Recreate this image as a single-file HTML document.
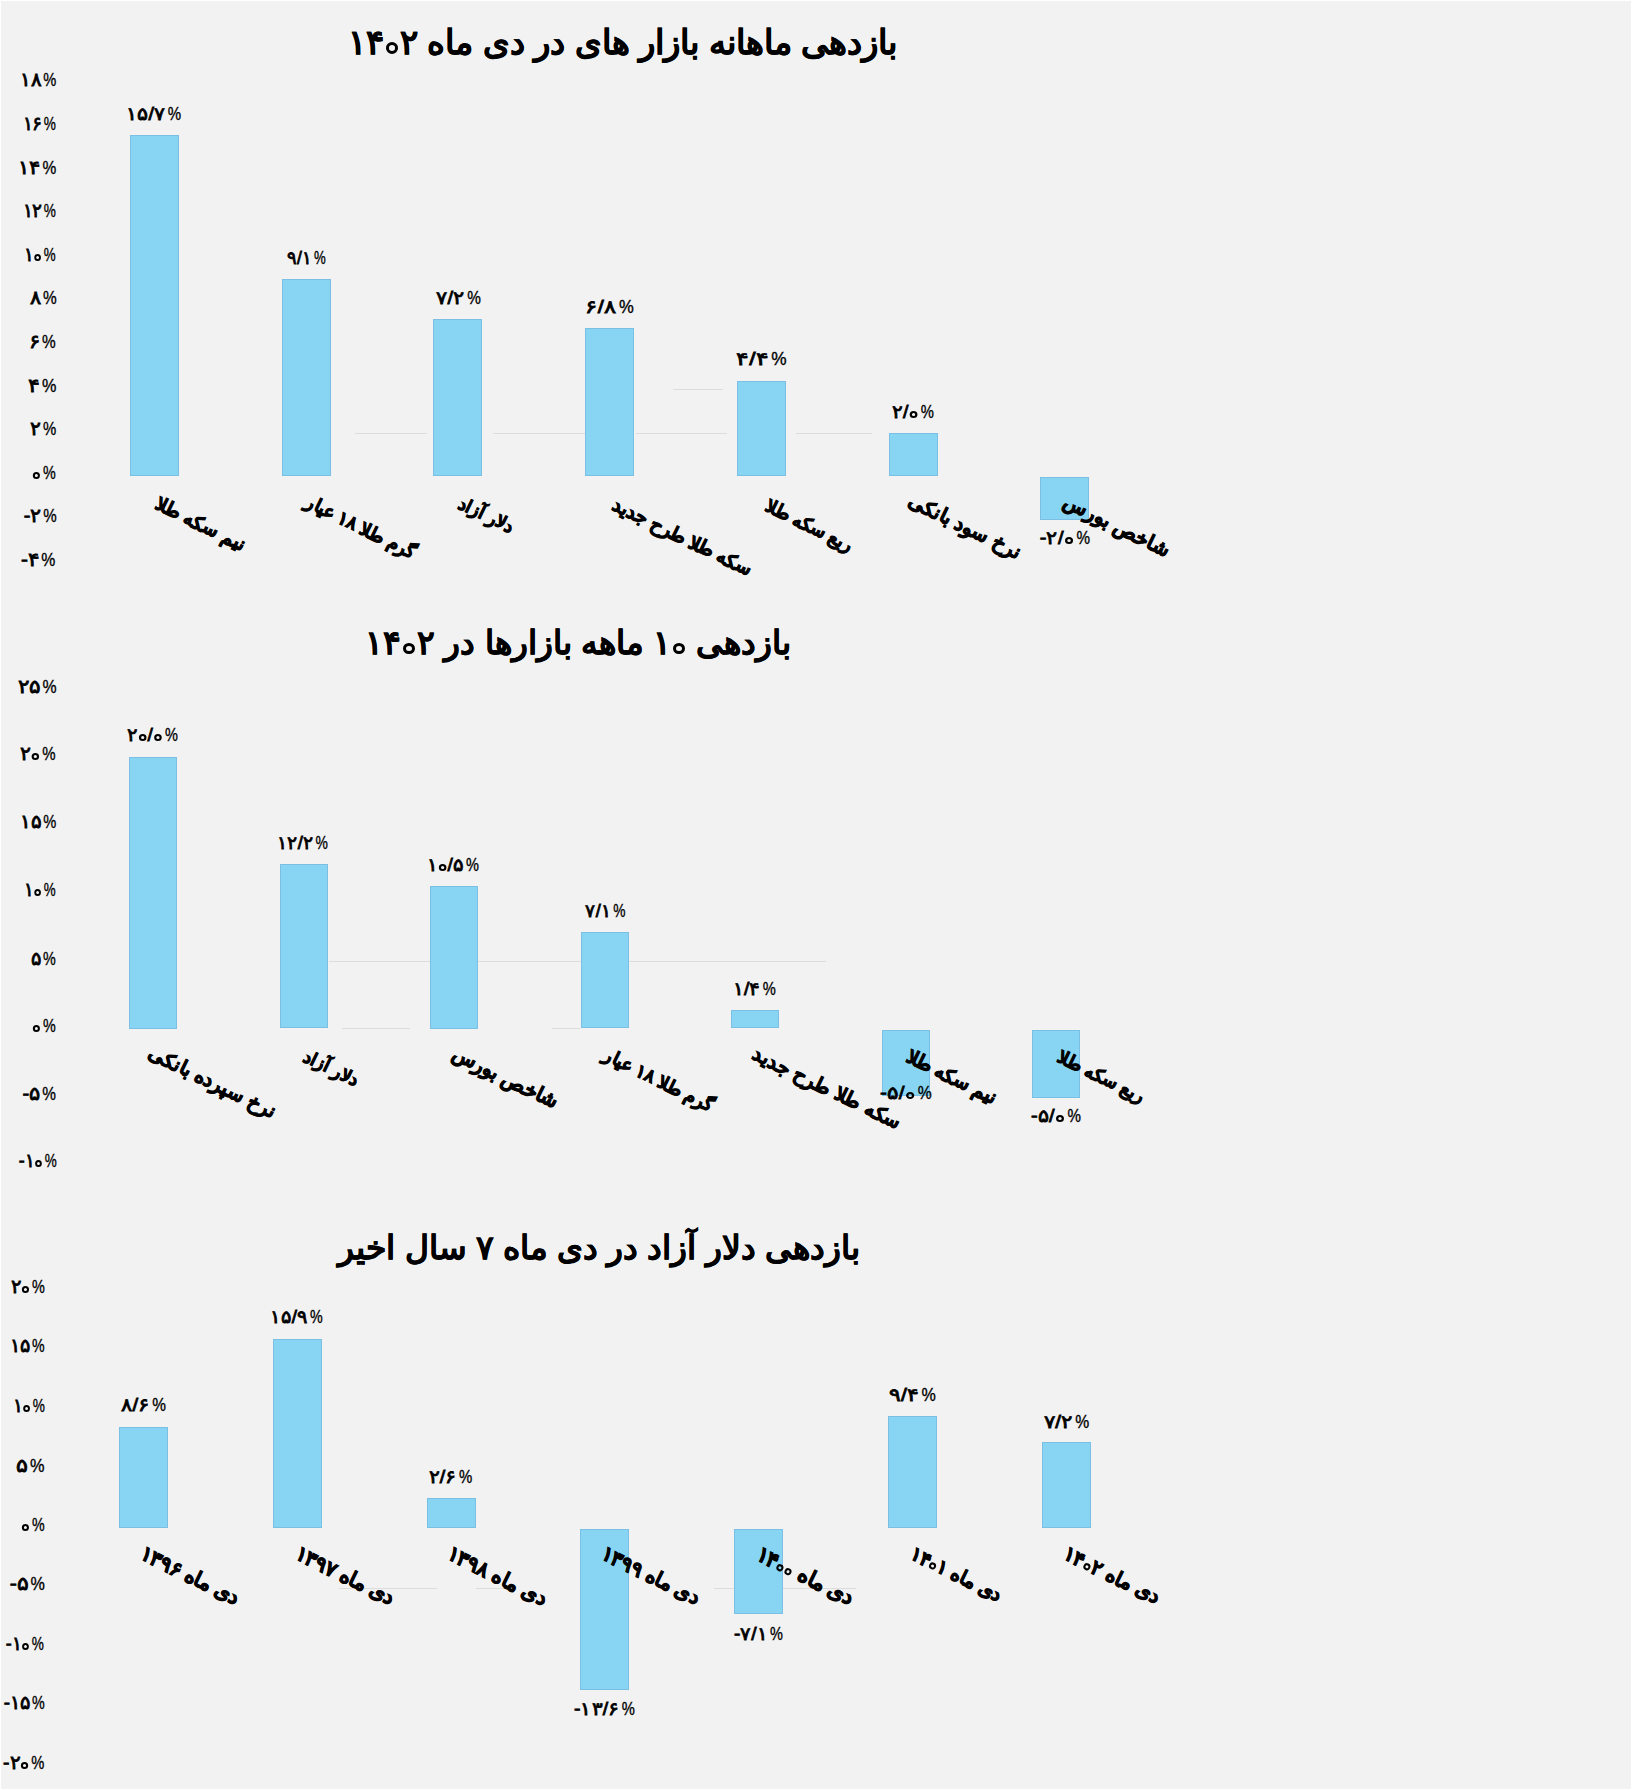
<!DOCTYPE html>
<html lang="fa"><head><meta charset="utf-8"><title>بازدهی بازارها در دی ماه ۱۴۰۲</title>
<style>
html,body{margin:0;padding:0;}
body{width:1632px;height:1790px;background:#fff;position:relative;overflow:hidden;font-family:"Liberation Sans",sans-serif;color:#000;}
#page{position:absolute;left:1px;top:1px;width:1630px;height:1788px;background:#f2f2f2;}
.t{position:absolute;white-space:nowrap;line-height:1;left:0;top:0;}
.title{font-weight:bold;direction:rtl;-webkit-text-stroke:0.25px #000;}
.ax{font-size:18.5px;direction:ltr;-webkit-text-stroke:0.8px #000;}
.dl{font-size:17.5px;direction:ltr;-webkit-text-stroke:0.8px #000;}
.cat{font-weight:bold;font-size:20px;direction:rtl;transform-origin:0 0;transform:rotate(26deg);-webkit-text-stroke:0.9px #000;}
.g{position:absolute;height:1px;background:#dcdcdc;}
.pc{display:inline-block;width:0.68em;margin-left:2px;transform:scaleX(0.76);transform-origin:0 50%;-webkit-text-stroke:0.35px #000;}
.bar{position:absolute;box-sizing:border-box;background:#87d5f2;border:1px solid #7bbfe5;}
i.z{display:inline-block;box-sizing:border-box;width:7px;height:7px;border:2px solid #000;border-radius:50%;margin:0 1px;vertical-align:baseline;}
i.zt{display:inline-block;box-sizing:border-box;width:12px;height:11.5px;border:3.8px solid #000;border-radius:50%;margin:0 2px;vertical-align:baseline;}
.cat i.z{width:7px;height:7px;border-width:2.2px;}
</style></head><body><div id="page">
<div class="g" style="left:354.0px;top:431.5px;width:72.0px"></div>
<div class="g" style="left:492.0px;top:431.5px;width:92.0px"></div>
<div class="g" style="left:635.0px;top:431.5px;width:90.5px"></div>
<div class="g" style="left:795.0px;top:431.5px;width:76.0px"></div>
<div class="g" style="left:672.0px;top:387.5px;width:50.0px"></div>
<div class="g" style="left:327.7px;top:959.5px;width:497.3px"></div>
<div class="g" style="left:340.6px;top:1027.0px;width:68.4px"></div>
<div class="g" style="left:551.0px;top:1027.0px;width:28.0px"></div>
<div class="g" style="left:337.6px;top:1587.0px;width:98.4px"></div>
<div class="g" style="left:475.0px;top:1587.0px;width:38.5px"></div>
<div class="g" style="left:713.0px;top:1587.0px;width:141.5px"></div>
<div class="bar" style="left:129.00px;top:134.00px;width:49.00px;height:341.00px"></div>
<div class="bar" style="left:280.70px;top:278.00px;width:49.00px;height:197.00px"></div>
<div class="bar" style="left:432.40px;top:317.90px;width:49.00px;height:157.10px"></div>
<div class="bar" style="left:584.10px;top:326.90px;width:49.00px;height:148.10px"></div>
<div class="bar" style="left:735.80px;top:379.80px;width:49.00px;height:95.20px"></div>
<div class="bar" style="left:887.50px;top:432.00px;width:49.00px;height:43.00px"></div>
<div class="bar" style="left:1039.20px;top:476.00px;width:49.00px;height:42.60px"></div>
<div class="bar" style="left:128.30px;top:756.00px;width:48.00px;height:271.50px"></div>
<div class="bar" style="left:278.80px;top:863.20px;width:48.00px;height:164.30px"></div>
<div class="bar" style="left:429.30px;top:885.00px;width:48.00px;height:142.50px"></div>
<div class="bar" style="left:579.80px;top:931.30px;width:48.00px;height:96.20px"></div>
<div class="bar" style="left:730.30px;top:1009.30px;width:48.00px;height:18.20px"></div>
<div class="bar" style="left:880.80px;top:1029.20px;width:48.00px;height:66.20px"></div>
<div class="bar" style="left:1031.30px;top:1029.20px;width:48.00px;height:67.70px"></div>
<div class="bar" style="left:118.00px;top:1426.25px;width:49.00px;height:100.45px"></div>
<div class="bar" style="left:271.80px;top:1338.00px;width:49.00px;height:188.70px"></div>
<div class="bar" style="left:425.60px;top:1497.00px;width:49.00px;height:29.70px"></div>
<div class="bar" style="left:579.40px;top:1528.10px;width:49.00px;height:160.60px"></div>
<div class="bar" style="left:733.20px;top:1528.10px;width:49.00px;height:84.80px"></div>
<div class="bar" style="left:887.00px;top:1415.00px;width:49.00px;height:111.70px"></div>
<div class="bar" style="left:1040.80px;top:1441.00px;width:49.00px;height:85.70px"></div>
<div class="t title" id="t0" style="font-size:34.30px;left:346.70px;top:23.60px">بازدهی ماهانه بازار های در دی ماه <span dir="ltr">۱۴<i class="zt"></i>۲</span></div>
<div class="t ax" id="a0_0" style="transform:scaleX(1.041);transform-origin:50% 50%;left:19.75px;top:69.50px">۱۸<span class="pc">%</span></div>
<div class="t ax" id="a0_1" style="transform:scaleX(0.969);transform-origin:50% 50%;left:21.00px;top:113.50px">۱۶<span class="pc">%</span></div>
<div class="t ax" id="a0_2" style="transform:scaleX(1.101);transform-origin:50% 50%;left:18.95px;top:157.50px">۱۴<span class="pc">%</span></div>
<div class="t ax" id="a0_3" style="transform:scaleX(0.969);transform-origin:50% 50%;left:21.00px;top:200.50px">۱۲<span class="pc">%</span></div>
<div class="t ax" id="a0_4" style="transform:scaleX(0.951);transform-origin:50% 50%;left:22.45px;top:244.50px">۱<i class="z"></i><span class="pc">%</span></div>
<div class="t ax" id="a0_5" style="transform:scaleX(1.095);transform-origin:50% 50%;left:30.00px;top:287.50px">۸<span class="pc">%</span></div>
<div class="t ax" id="a0_6" style="transform:scaleX(1.094);transform-origin:50% 50%;left:29.45px;top:331.50px">۶<span class="pc">%</span></div>
<div class="t ax" id="a0_7" style="transform:scaleX(1.151);transform-origin:50% 50%;left:28.62px;top:375.50px">۴<span class="pc">%</span></div>
<div class="t ax" id="a0_8" style="transform:scaleX(1.060);transform-origin:50% 50%;left:29.95px;top:418.50px">۲<span class="pc">%</span></div>
<div class="t ax" id="a0_9" style="transform:scaleX(1.018);transform-origin:50% 50%;left:31.12px;top:463.00px"><i class="z"></i><span class="pc">%</span></div>
<div class="t ax" id="a0_10" style="transform:scaleX(1.074);transform-origin:50% 50%;left:24.12px;top:505.50px">-۲<span class="pc">%</span></div>
<div class="t ax" id="a0_11" style="transform:scaleX(1.123);transform-origin:50% 50%;left:22.45px;top:550.00px">-۴<span class="pc">%</span></div>
<div class="t dl" id="d0_0" style="transform:scaleX(1.130);transform-origin:50% 50%;left:127.50px;top:105.20px">۱۵/۷<span class="pc">%</span></div>
<div class="t cat" id="c0_0" style="font-size:18.76px;left:159.65px;top:494.00px">نیم سکه طلا</div>
<div class="t dl" id="d0_1" style="transform:scaleX(0.992);transform-origin:50% 50%;left:285.75px;top:248.85px">۹/۱<span class="pc">%</span></div>
<div class="t cat" id="c0_1" style="font-size:18.25px;left:309.65px;top:492.30px">گرم طلا ۱۸ عیار</div>
<div class="t dl" id="d0_2" style="transform:scaleX(1.153);transform-origin:50% 50%;left:437.70px;top:289.05px">۷/۲<span class="pc">%</span></div>
<div class="t cat" id="c0_2" style="font-size:17.54px;left:461.85px;top:493.80px">دلار آزاد</div>
<div class="t dl" id="d0_3" style="transform:scaleX(1.249);transform-origin:50% 50%;left:589.10px;top:298.10px">۶/۸<span class="pc">%</span></div>
<div class="t cat" id="c0_3" style="font-size:18.86px;left:616.90px;top:494.75px">سکه طلا طرح جدید</div>
<div class="t dl" id="d0_4" style="transform:scaleX(1.297);transform-origin:50% 50%;left:740.70px;top:350.45px">۴/۴<span class="pc">%</span></div>
<div class="t cat" id="c0_4" style="font-size:18.27px;left:770.15px;top:495.70px">ربع سکه طلا</div>
<div class="t dl" id="d0_5" style="transform:scaleX(1.112);transform-origin:50% 50%;left:893.00px;top:402.80px">۲/<i class="z"></i><span class="pc">%</span></div>
<div class="t cat" id="c0_5" style="font-size:19.68px;left:913.00px;top:490.38px">نرخ سود بانکی</div>
<div class="t dl" id="d0_6" style="transform:scaleX(1.146);transform-origin:50% 50%;left:1042.10px;top:529.30px">-۲/<i class="z"></i><span class="pc">%</span></div>
<div class="t cat" id="c0_6" style="font-size:19.76px;left:1067.50px;top:491.40px">شاخص بورس</div>
<div class="t title" id="t1" style="font-size:33.00px;left:364.25px;top:625.20px">بازدهی <span dir="ltr">۱<i class="zt"></i></span> ماهه بازارها در <span dir="ltr">۱۴<i class="zt"></i>۲</span></div>
<div class="t ax" id="a1_0" style="transform:scaleX(1.126);transform-origin:50% 50%;left:19.12px;top:676.50px">۲۵<span class="pc">%</span></div>
<div class="t ax" id="a1_1" style="transform:scaleX(1.064);transform-origin:50% 50%;left:20.45px;top:744.00px">۲<i class="z"></i><span class="pc">%</span></div>
<div class="t ax" id="a1_2" style="transform:scaleX(1.041);transform-origin:50% 50%;left:19.75px;top:811.50px">۱۵<span class="pc">%</span></div>
<div class="t ax" id="a1_3" style="transform:scaleX(0.951);transform-origin:50% 50%;left:22.45px;top:879.50px">۱<i class="z"></i><span class="pc">%</span></div>
<div class="t ax" id="a1_4" style="transform:scaleX(1.019);transform-origin:50% 50%;left:30.45px;top:948.50px">۵<span class="pc">%</span></div>
<div class="t ax" id="a1_5" style="transform:scaleX(1.018);transform-origin:50% 50%;left:31.12px;top:1016.00px"><i class="z"></i><span class="pc">%</span></div>
<div class="t ax" id="a1_6" style="transform:scaleX(1.093);transform-origin:50% 50%;left:22.55px;top:1083.50px">-۵<span class="pc">%</span></div>
<div class="t ax" id="a1_7" style="transform:scaleX(0.960);transform-origin:50% 50%;left:17.12px;top:1150.50px">-۱<i class="z"></i><span class="pc">%</span></div>
<div class="t dl" id="d1_0" style="transform:scaleX(1.089);transform-origin:50% 50%;left:128.25px;top:726.25px">۲<i class="z"></i>/<i class="z"></i><span class="pc">%</span></div>
<div class="t cat" id="c1_0" style="font-size:19.52px;left:152.55px;top:1042.10px">نرخ سپرده بانکی</div>
<div class="t dl" id="d1_1" style="transform:scaleX(1.046);transform-origin:50% 50%;left:277.10px;top:833.95px">۱۲/۲<span class="pc">%</span></div>
<div class="t cat" id="c1_1" style="font-size:17.56px;left:307.30px;top:1047.35px">دلار آزاد</div>
<div class="t dl" id="d1_2" style="transform:scaleX(1.092);transform-origin:50% 50%;left:427.95px;top:855.60px">۱<i class="z"></i>/۵<span class="pc">%</span></div>
<div class="t cat" id="c1_2" style="font-size:20.05px;left:456.80px;top:1041.60px">شاخص بورس</div>
<div class="t dl" id="d1_3" style="transform:scaleX(1.033);transform-origin:50% 50%;left:585.30px;top:901.60px">۷/۱<span class="pc">%</span></div>
<div class="t cat" id="c1_3" style="font-size:18.06px;left:607.85px;top:1045.15px">گرم طلا ۱۸ عیار</div>
<div class="t dl" id="d1_4" style="transform:scaleX(1.102);transform-origin:50% 50%;left:733.85px;top:979.70px">۱/۴<span class="pc">%</span></div>
<div class="t cat" id="c1_4" style="font-size:19.53px;left:757.25px;top:1043.00px">سکه طلا طرح جدید</div>
<div class="t dl" id="d1_5" style="transform:scaleX(1.180);transform-origin:50% 50%;left:882.75px;top:1083.70px">-۵/<i class="z"></i><span class="pc">%</span></div>
<div class="t cat" id="c1_5" style="font-size:19.28px;left:910.50px;top:1045.88px">نیم سکه طلا</div>
<div class="t dl" id="d1_6" style="transform:scaleX(1.136);transform-origin:50% 50%;left:1033.20px;top:1106.75px">-۵/<i class="z"></i><span class="pc">%</span></div>
<div class="t cat" id="c1_6" style="font-size:18.06px;left:1062.40px;top:1047.45px">ربع سکه طلا</div>
<div class="t title" id="t2" style="font-size:33.00px;left:337.40px;top:1230.45px">بازدهی دلار آزاد در دی ماه ۷ سال اخیر</div>
<div class="t ax" id="a2_0" style="transform:scaleX(1.025);transform-origin:50% 50%;left:9.67px;top:1276.50px">۲<i class="z"></i><span class="pc">%</span></div>
<div class="t ax" id="a2_1" style="transform:scaleX(1.009);transform-origin:50% 50%;left:9.25px;top:1336.00px">۱۵<span class="pc">%</span></div>
<div class="t ax" id="a2_2" style="transform:scaleX(0.970);transform-origin:50% 50%;left:10.80px;top:1395.50px">۱<i class="z"></i><span class="pc">%</span></div>
<div class="t ax" id="a2_3" style="transform:scaleX(1.160);transform-origin:50% 50%;left:17.35px;top:1455.50px">۵<span class="pc">%</span></div>
<div class="t ax" id="a2_4" style="transform:scaleX(1.013);transform-origin:50% 50%;left:20.25px;top:1515.00px"><i class="z"></i><span class="pc">%</span></div>
<div class="t ax" id="a2_5" style="transform:scaleX(1.147);transform-origin:50% 50%;left:10.60px;top:1574.00px">-۵<span class="pc">%</span></div>
<div class="t ax" id="a2_6" style="transform:scaleX(0.967);transform-origin:50% 50%;left:4.20px;top:1633.50px">-۱<i class="z"></i><span class="pc">%</span></div>
<div class="t ax" id="a2_7" style="transform:scaleX(1.016);transform-origin:50% 50%;left:2.80px;top:1692.50px">-۱۵<span class="pc">%</span></div>
<div class="t ax" id="a2_8" style="transform:scaleX(1.046);transform-origin:50% 50%;left:2.85px;top:1752.50px">-۲<i class="z"></i><span class="pc">%</span></div>
<div class="t dl" id="d2_0" style="transform:scaleX(1.158);transform-origin:50% 50%;left:123.00px;top:1396.25px">۸/۶<span class="pc">%</span></div>
<div class="t cat" id="c2_0" style="font-size:20.47px;left:144.75px;top:1542.05px">دی ماه <span dir="ltr">۱۳۹۶</span></div>
<div class="t dl" id="d2_1" style="transform:scaleX(1.073);transform-origin:50% 50%;left:270.70px;top:1308.25px">۱۵/۹<span class="pc">%</span></div>
<div class="t cat" id="c2_1" style="font-size:20.48px;left:299.55px;top:1542.00px">دی ماه <span dir="ltr">۱۳۹۷</span></div>
<div class="t dl" id="d2_2" style="transform:scaleX(1.122);transform-origin:50% 50%;left:429.60px;top:1468.20px">۲/۶<span class="pc">%</span></div>
<div class="t cat" id="c2_2" style="font-size:20.50px;left:452.25px;top:1541.50px">دی ماه <span dir="ltr">۱۳۹۸</span></div>
<div class="t dl" id="d2_3" style="transform:scaleX(1.109);transform-origin:50% 50%;left:576.20px;top:1699.75px">-۱۳/۶<span class="pc">%</span></div>
<div class="t cat" id="c2_3" style="font-size:20.21px;left:606.35px;top:1542.20px">دی ماه <span dir="ltr">۱۳۹۹</span></div>
<div class="t dl" id="d2_4" style="transform:scaleX(1.089);transform-origin:50% 50%;left:734.60px;top:1624.50px">-۷/۱<span class="pc">%</span></div>
<div class="t cat" id="c2_4" style="font-size:21.33px;left:760.65px;top:1542.70px">دی ماه <span dir="ltr">۱۴<i class="z"></i><i class="z"></i></span></div>
<div class="t dl" id="d2_5" style="transform:scaleX(1.209);transform-origin:50% 50%;left:891.80px;top:1385.62px">۹/۴<span class="pc">%</span></div>
<div class="t cat" id="c2_5" style="font-size:19.17px;left:914.90px;top:1542.85px">دی ماه <span dir="ltr">۱۴<i class="z"></i>۱</span></div>
<div class="t dl" id="d2_6" style="transform:scaleX(1.179);transform-origin:50% 50%;left:1045.97px;top:1412.75px">۷/۲<span class="pc">%</span></div>
<div class="t cat" id="c2_6" style="font-size:20.13px;left:1068.05px;top:1541.95px">دی ماه <span dir="ltr">۱۴<i class="z"></i>۲</span></div>
</div></body></html>
